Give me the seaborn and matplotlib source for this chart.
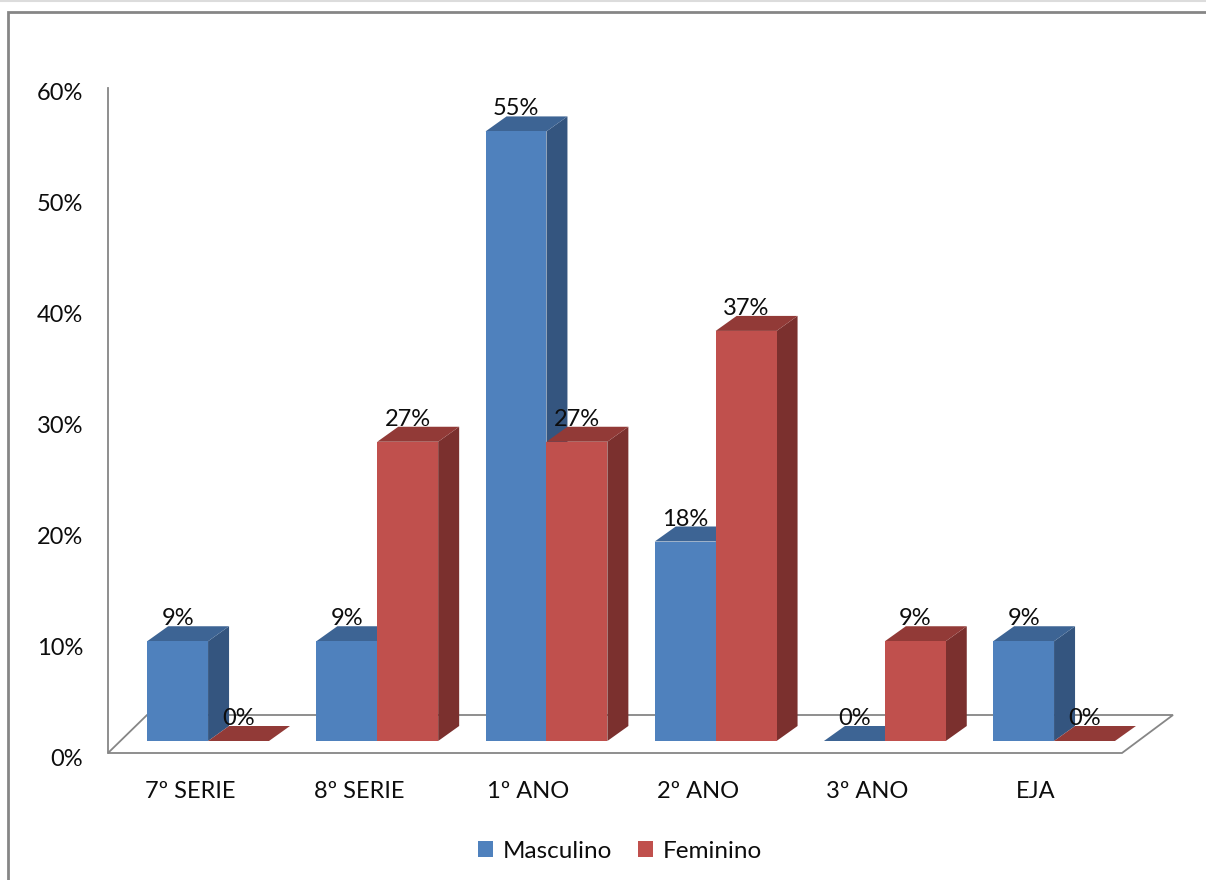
import numpy as np
import pandas as pd
import matplotlib
matplotlib.use("Agg")
import matplotlib.pyplot as plt
import seaborn as sns
from matplotlib.patches import Polygon, Rectangle, Patch
from matplotlib.lines import Line2D
from matplotlib.transforms import ScaledTranslation, IdentityTransform

# ---------------- data ----------------
categories = ["7º SERIE", "8º SERIE", "1º ANO", "2º ANO", "3º ANO", "EJA"]
series_names = ["Masculino", "Feminino"]
masculino = [9, 9, 55, 18, 0, 9]
feminino = [0, 27, 27, 37, 9, 0]
y_ticks = [0, 10, 20, 30, 40, 50, 60]
y_tick_labels = ["0%", "10%", "20%", "30%", "40%", "50%", "60%"]

# ---------------- style ----------------
front_col = {"Masculino": "#4F81BD", "Feminino": "#C0504D"}
top_col = {"Masculino": "#3D6494", "Feminino": "#923A37"}
side_col = {"Masculino": "#34557F", "Feminino": "#7B302E"}
gray = "#868686"
txt = "#0d0d0d"

sns.set_style("white")
plt.rcParams["font.family"] = ["Lato", "DejaVu Sans"]
FS = 17

W, H, DPI = 1206, 880, 100
fig = plt.figure(figsize=(W / DPI, H / DPI), dpi=DPI)
fig.patch.set_facecolor("white")

ax_left, ax_right, ax_top, ax_bottom = 108, 1122, 88, 753
ax = fig.add_axes([ax_left / W, 1 - ax_bottom / H,
                   (ax_right - ax_left) / W, (ax_bottom - ax_top) / H])
ax.set_facecolor("none")

df = pd.DataFrame({
    "cat": categories * 2,
    "sexo": [series_names[0]] * len(categories) + [series_names[1]] * len(categories),
    "val": masculino + feminino,
})

sns.barplot(data=df, x="cat", y="val", hue="sexo", order=categories,
            hue_order=series_names, palette=front_col, width=0.72,
            saturation=1, ax=ax, legend=False, linewidth=0, edgecolor="none")

ax.set_xlim(-0.485, 5.508)
ax.set_ylim(0, 60)
ax.set_autoscale_on(False)

# axis styling
for s in ["top", "right", "bottom"]:
    ax.spines[s].set_visible(False)
ax.spines["left"].set_color(gray)
ax.spines["left"].set_linewidth(1.3)
ax.set_yticks(y_ticks)
ax.set_yticklabels(y_tick_labels)
ax.tick_params(axis="y", length=0, pad=18, labelsize=FS, labelcolor=txt)
ax.tick_params(axis="x", length=0, pad=20, labelsize=FS, labelcolor=txt)
ax.set_xlabel("")
ax.set_ylabel("")
ydown = ScaledTranslation(0, -4 / DPI, fig.dpi_scale_trans)
for lab in ax.get_yticklabels():
    lab.set_transform(lab.get_transform() + ydown)

# 3D geometry (pixels)
shift = ScaledTranslation(18 / DPI, 12 / DPI, fig.dpi_scale_trans)
DX, DY = 21, 15
bar_trans = ax.transData + shift

# floor
fl = ax.transAxes.transform((0, 0))
fr = ax.transAxes.transform((1, 0))
floor = Polygon([fl, fr, (fr[0] + 51, fr[1] + 38), (fl[0] + 39, fl[1] + 38)],
                closed=True, facecolor="white", edgecolor=gray, linewidth=1.3,
                transform=IdentityTransform(), zorder=1)
ax.add_artist(floor)
floor.set_clip_on(False)

# collect bars with their series, sort by x so overlapping draws correctly
bars = []
for cont, name in zip(ax.containers, series_names):
    for p in cont.patches:
        bars.append((p.get_x(), p, name))
bars.sort(key=lambda t: t[0])

z = 3
for _, p, name in bars:
    p.set_transform(bar_trans)
    p.set_clip_on(False)
    x, w, h = p.get_x(), p.get_width(), p.get_height()
    (x0, y0) = bar_trans.transform((x, 0))
    (x1, y1) = bar_trans.transform((x + w, h))
    side = Polygon([(x1, y0), (x1 + DX, y0 + DY), (x1 + DX, y1 + DY), (x1, y1)],
                   closed=True, facecolor=side_col[name], edgecolor="none",
                   transform=IdentityTransform(), zorder=z)
    top = Polygon([(x0, y1), (x1, y1), (x1 + DX, y1 + DY), (x0 + DX, y1 + DY)],
                  closed=True, facecolor=top_col[name], edgecolor="none",
                  transform=IdentityTransform(), zorder=z)
    for a in (side, top):
        ax.add_artist(a)
        a.set_clip_on(False)
    p.set_zorder(z + 1)
    z += 2
    # value label
    ax.annotate(f"{int(round(h))}%", xy=(x + w / 2, h), xycoords="data",
                xytext=(18 * 72 / DPI, (12 + DY - 3) * 72 / DPI),
                textcoords="offset points", ha="center", va="bottom",
                fontsize=FS, color=txt, zorder=100, annotation_clip=False)

# legend
handles = [Patch(facecolor=front_col[n], edgecolor="none", label=n) for n in series_names]
fig.legend(handles=handles, loc="center", bbox_to_anchor=(620 / W, 1 - 851 / H),
           ncol=2, frameon=False, fontsize=FS + 0.5, handlelength=0.6, handleheight=0.6,
           handletextpad=0.4, columnspacing=1.1, labelcolor=txt)

# chart frame
fig.add_artist(Rectangle((8 / W, -0.1), 1.2, 1 - 12 / H + 0.1, transform=fig.transFigure,
                         fill=False, edgecolor=gray, linewidth=2))
fig.add_artist(Line2D([0, 1], [1 - 1 / H, 1 - 1 / H], transform=fig.transFigure,
                      color="#dcdcdc", linewidth=1.5))

fig.savefig("out.png", dpi=DPI, facecolor="white")
